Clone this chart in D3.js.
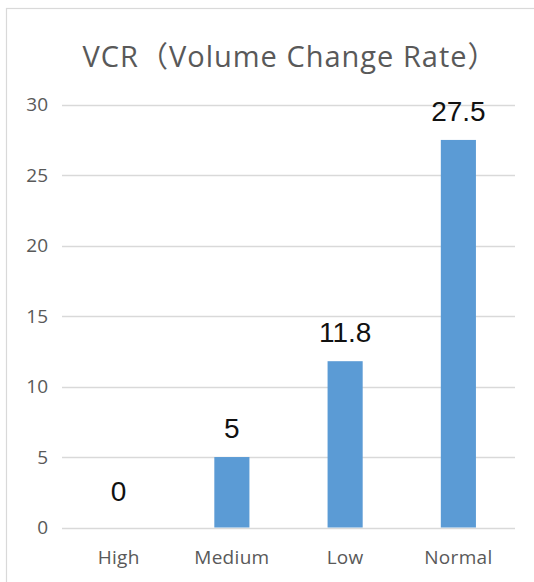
<!DOCTYPE html>
<html>
<head>
<meta charset="utf-8">
<script src="https://cdn.jsdelivr.net/npm/d3@7/dist/d3.min.js"></script>
<style>
  html, body { margin: 0; padding: 0; background: #fff; }
  svg { display: block; }
</style>
</head>
<body>
<script>
const title = "VCR（Volume Change Rate）";
const categories = ["High", "Medium", "Low", "Normal"];
const values = [0, 5, 11.8, 27.5];
const yTicks = [0, 5, 10, 15, 20, 25, 30];

const W = 534, H = 582;
const svg = d3.select("body").append("svg").attr("width", W).attr("height", H);

// chart frame (extends past right/bottom edges as in the reference crop)
svg.append("rect")
  .attr("x", 6.5).attr("y", 8.5).attr("width", 700).attr("height", 700)
  .attr("fill", "#fff").attr("stroke", "#d9d9d9").attr("stroke-width", 1.2);

const plot = { left: 62, right: 515, top: 104.7, bottom: 527.5 };

const x = d3.scaleBand().domain(categories).range([plot.left, plot.right]).paddingInner(0.69).paddingOuter(0.345);
const y = d3.scaleLinear().domain([0, 30]).range([plot.bottom, plot.top]);

// gridlines
svg.append("g").selectAll("line").data(yTicks).join("line")
  .attr("x1", plot.left).attr("x2", plot.right)
  .attr("y1", d => Math.round(y(d)) + 0.5).attr("y2", d => Math.round(y(d)) + 0.5)
  .attr("stroke", "#d9d9d9").attr("stroke-width", 1.3);

// y axis labels
const yAxis = d3.axisLeft(y).tickValues(yTicks).tickSize(0).tickPadding(0);
const gy = svg.append("g").attr("transform", `translate(48,0)`).call(yAxis);
gy.select(".domain").remove();
gy.selectAll("text")
  .attr("font-family", "'Open Sans', sans-serif").attr("font-size", 19)
  .attr("fill", "#595959");

// x axis labels
const xAxis = d3.axisBottom(x).tickSize(0).tickPadding(0);
const gx = svg.append("g").attr("transform", `translate(0,${plot.bottom})`).call(xAxis);
gx.select(".domain").remove();
gx.selectAll("text")
  .attr("dy", null).attr("y", 36)
  .attr("font-family", "'Open Sans', sans-serif").attr("font-size", 19)
  .attr("letter-spacing", 0.3)
  .attr("fill", "#595959");

// bars
svg.append("g").selectAll("rect").data(values).join("rect")
  .attr("x", (d, i) => x(categories[i]))
  .attr("width", x.bandwidth())
  .attr("y", d => y(d))
  .attr("height", d => y(0) - y(d))
  .attr("fill", "#5b9bd5");

// data labels
svg.append("g").selectAll("text").data(values).join("text")
  .attr("x", (d, i) => x(categories[i]) + x.bandwidth() / 2)
  .attr("y", d => y(d) - (d === 0 ? 27 : 19))
  .attr("text-anchor", "middle")
  .attr("font-family", "'Liberation Sans', Arial, sans-serif")
  .attr("font-size", 28)
  .attr("fill", "#111")
  .text(d => d3.format("")(d));

// title
svg.append("text")
  .attr("x", 290).attr("y", 67)
  .attr("text-anchor", "middle")
  .attr("font-family", "'Open Sans', 'Noto Sans CJK SC', sans-serif")
  .attr("font-size", 29)
  .attr("letter-spacing", 1)
  .attr("fill", "#595959")
  .text(title);
</script>
</body>
</html>
